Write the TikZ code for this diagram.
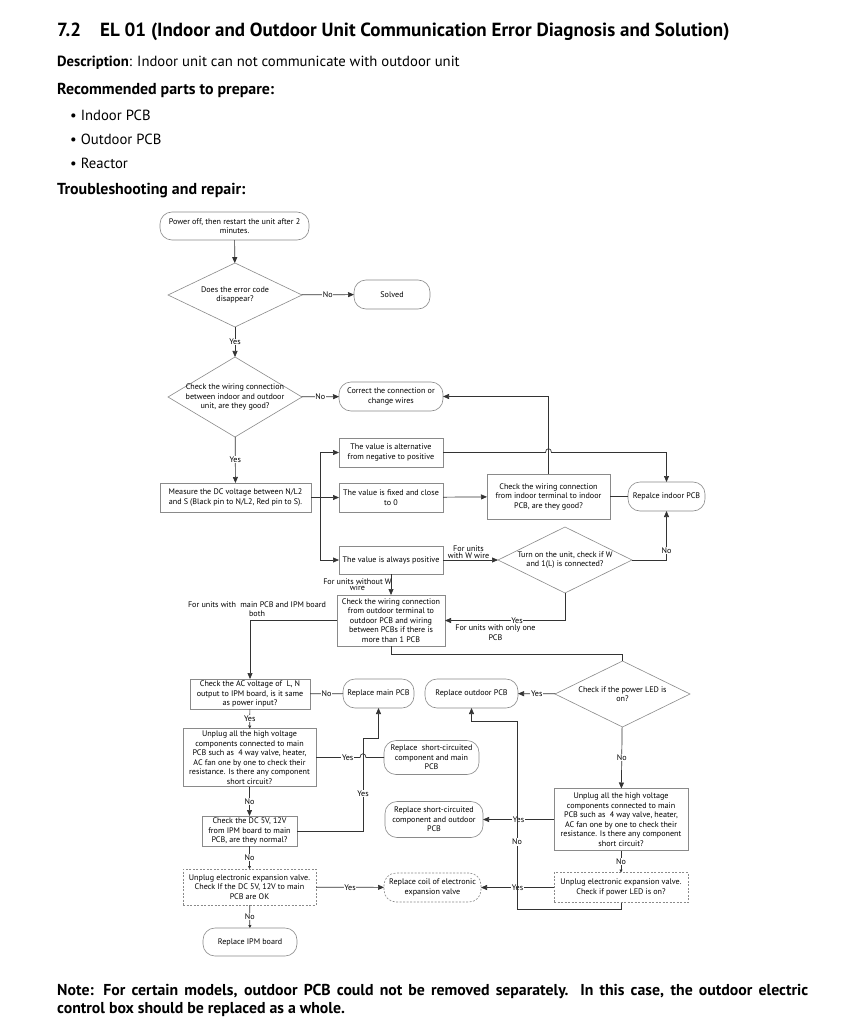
\documentclass[tikz,border=0pt]{standalone}
\usepackage{fontspec}
\setmainfont{PT Sans}
\usetikzlibrary{arrows.meta,shapes.geometric,calc}
\definecolor{lnc}{HTML}{333333}
\definecolor{bdc}{HTML}{8A8A8A}
\newcommand\chartfont{\fontsize{8.1}{9.5}\selectfont}
\newcommand\bodyfont{\fontsize{14.7}{17}\selectfont}
\newcommand\headfont{\fontsize{15.9}{18}\selectfont\bfseries}
\newcommand\titlefont{\fontsize{19}{22}\selectfont\bfseries}
\begin{document}
\begin{tikzpicture}[x=1pt,y=-1pt,
  base/.style={draw=bdc, line width=0.6pt, align=center, inner sep=1pt, outer sep=0pt, font=\chartfont},
  sz/.style n args={2}{minimum width=#1pt, minimum height=#2pt},
  term/.style={base, rounded corners=12pt},
  proc/.style={base},
  dsh/.style={dash pattern=on 2pt off 1.5pt},
  dia/.style={diamond, draw=bdc, line width=0.6pt, inner sep=0pt, outer sep=0pt},
  inl/.style={align=center, font=\chartfont, inner sep=0pt},
  ln/.style={draw=lnc, line width=0.7pt},
  arr/.style={ln, -{Triangle[length=6pt,width=5pt]}},
  sarr/.style={ln, -{Triangle[length=3pt,width=3pt]}},
  lbl/.style={fill=white, inner sep=0.6pt, font=\chartfont},
  note/.style={align=center, font=\chartfont, inner sep=0.5pt},
  txt/.style={anchor=base west, inner sep=0pt}
]
\useasboundingbox (0,0) rectangle (864,1024);
\fill[white] (0,0) rectangle (864,1024);

% ---- header text ----
\node[txt, font=\titlefont] (title) at (57,37) {7.2\hspace{19pt}EL 01 (Indoor and Outdoor Unit Communication Error Diagnosis and Solution)};
\node[txt, font=\bodyfont] (desc) at (57,67) {\textbf{Description}: Indoor unit can not communicate with outdoor unit};
\node[txt, font=\headfont] (rec) at (57,95) {Recommended parts to prepare:};
\node[txt, font=\bodyfont] (b1) at (70,121) {\textbullet\hspace{4pt}Indoor PCB};
\node[txt, font=\bodyfont] (b2) at (70,145) {\textbullet\hspace{4pt}Outdoor PCB};
\node[txt, font=\bodyfont] (b3) at (70,169) {\textbullet\hspace{4pt}Reactor};
\node[txt, font=\headfont] (trb) at (57,195) {Troubleshooting and repair:};
\node[anchor=north west, inner sep=0pt, text width=751pt, align=justify, font=\fontsize{15.8}{18}\selectfont\bfseries] (notetxt) at (57,984)
 {Note: For certain models, outdoor PCB could not be removed separately. In this case, the outdoor electric\linebreak control box should be replaced as a whole.};

% ---- nodes ----
\node[term, sz={149}{28}] (start) at (234.5,226) {Power off, then restart the unit after 2\\minutes.};
\node[dia, sz={134}{64}, label={[inl]center:{Does the error code\\disappear?}}] (d1) at (235,295) {};
\node[term, sz={76}{29}] (solved) at (392,294.5) {Solved};
\node[dia, sz={134}{80}, label={[inl]center:{Check the wiring connection\\between indoor and outdoor\\unit, are they good?}}] (d2) at (235,397) {};
\node[term, sz={104}{29}] (correct) at (391,396.5) {Correct the connection or\\change wires};
\node[proc, sz={151}{29}] (measure) at (235.5,497.5) {Measure the DC voltage between N/L2\\and S (Black pin to N/L2, Red pin to S).};
\node[proc, sz={104}{29}] (alt) at (391,452.5) {The value is alternative\\from negative to positive};
\node[proc, sz={104}{29}] (fixed) at (391,497.5) {The value is fixed and close\\to 0};
\node[proc, sz={104}{28}] (pos) at (391,560) {The value is always positive};
\node[proc, sz={123}{45}] (chkind) at (548.5,496.5) {Check the wiring connection\\from indoor terminal to indoor\\PCB, are they good?};
\node[term, sz={77}{29}] (repind) at (666.5,496.5) {Repalce indoor PCB};
\node[dia, sz={134}{66}, label={[inl]center:{Turn on the unit, check if W\\and 1(L) is connected?}}] (d3) at (565,560) {};
\node[proc, sz={108}{51}] (chkout) at (391,620.5) {Check the wiring connection\\from outdoor terminal to\\outdoor PCB and wiring\\between PCBs if there is\\more than 1 PCB};
\node[proc, sz={120}{30}] (acv) at (250,694) {Check the AC voltage of \ L, N\\output to IPM board, is it same\\as power input?};
\node[term, sz={71}{29}] (repmain) at (378.5,693.5) {Replace main PCB};
\node[term, sz={93}{29}] (repout) at (471.5,693.5) {Replace outdoor PCB};
\node[dia, sz={135}{66}, label={[inl]center:{Check if the power LED is\\on?}}] (d4) at (622.5,694) {};
\node[proc, sz={133}{58}] (unplug1) at (249.5,757.5) {Unplug all the high voltage\\components connected to main\\PCB such as \ 4 way valve, heater,\\AC fan one by one to check their\\resistance. Is there any component\\short circuit?};
\node[term, sz={95}{34}] (repsc1) at (431.5,757.5) {Replace \ short-circuited\\component and main\\PCB};
\node[proc, sz={95}{30}] (dc5) at (249.5,831) {Check the DC 5V, 12V\\from IPM board to main\\PCB, are they normal?};
\node[proc, dsh, sz={133}{36}] (unplugE1) at (249.5,887) {Unplug electronic expansion valve.\\Check If the DC 5V, 12V to main\\PCB are OK};
\node[term, dsh, sz={97}{29}] (repcoil) at (432.5,887.5) {Replace coil of electronic\\expansion valve};
\node[term, sz={94}{28}] (repipm) at (250,942) {Replace IPM board};
\node[term, sz={98}{36}] (repsc2) at (434,819.5) {Replace short-circuited\\component and outdoor\\PCB};
\node[proc, sz={134}{62}] (unplug2) at (621,819.5) {Unplug all the high voltage\\components connected to main\\PCB such as \ 4 way valve, heater,\\AC fan one by one to check their\\resistance. Is there any component\\short circuit?};
\node[proc, dsh, sz={134}{30}] (unplugE2) at (621,887.5) {Unplug electronic expansion valve.\\Check if power LED is on?};

% helper coordinates
\coordinate (br) at ($(measure.east)+(9,0)$);
\coordinate (c1) at (363,738);
\coordinate (c2) at (517,721);

% ---- connectors ----
\draw[arr] (start) -- (d1);
\draw[arr] (d1) -- node[lbl]{No} (solved);
\draw[arr] (d1) -- node[lbl]{Yes} (d2);
\draw[arr] (d2) -- node[lbl]{No} (correct);
\draw[arr] (d2) -- node[lbl]{Yes} (measure);
\draw[arr] (measure) -- (fixed);
\draw[arr] (br) |- (alt);
\draw[arr] (br) |- (pos);
\draw[arr] (fixed) -- (chkind);
\draw[arr] (chkind.north) |- (correct.east);
\draw[arr] (alt.east) -- ($(alt.east -| chkind.north)+(-3,0)$)
   .. controls +(0,-5) and +(0,-5) .. ($(alt.east -| chkind.north)+(3,0)$) -| (repind.north);
\draw[ln] (chkind) -- (repind);
\draw[arr] (pos) -- node[above, note, yshift=1pt, xshift=-2pt]{For units\\[-3pt]with W wire} (d3);
\draw[arr] (d3.east) -| node[pos=0.6, lbl]{No} (repind.south);
\draw[arr] (d3.south) |- node[pos=0.7, lbl]{Yes} node[pos=0.79, below, note, yshift=-3.5pt]{For units with only one\\PCB} (chkout.east);
\draw[arr] (pos) -- node[left, note, xshift=1.5pt]{For units without W\\[-3pt]wire} (chkout);
\draw[arr] (chkout.west) -| (acv.north);
\node[note] (lblboth) at (257,609) {For units with \ main PCB and IPM board\\both};
\draw[ln] (chkout.south) -- ++(0,8) -| (d4.north);
\draw[ln] (acv) -- node[lbl]{No} (repmain);
\draw[arr] (d4) -- node[lbl]{Yes} (repout);
\draw[sarr] (acv) -- node[lbl]{Yes} (unplug1);
\draw[ln] (unplug1.east) -- node[lbl, pos=0.72]{Yes} ($(c1 |- unplug1.east)+(-3,0)$)
   .. controls +(0,-5) and +(0,-5) .. ($(c1 |- unplug1.east)+(3,0)$) -- (repsc1.west);
\draw[arr] (unplug1) -- node[lbl]{No} (dc5);
\draw[arr] (dc5.east) -| node[pos=0.7, lbl]{Yes} (c1) -| (repmain.south);
\draw[sarr] (dc5) -- node[lbl]{No} (unplugE1);
\draw[arr] (unplugE1) -- node[lbl]{Yes} (repcoil);
\draw[sarr] (unplugE1) -- node[lbl]{No} (repipm);
\draw[arr] (d4) -- node[lbl]{No} (unplug2);
\draw[arr] (unplug2.west) -- node[lbl]{Yes} (repsc2.east);
\draw[sarr] (unplug2) -- node[lbl]{No} (unplugE2);
\draw[arr] (unplugE2) -- node[lbl]{Yes} (repcoil);
\draw[arr] (unplugE2.south) -- ++(0,7) -| (c2) -| (repout.south);
\node[lbl] (nolbl) at (517,842) {No};
\end{tikzpicture}
\end{document}
